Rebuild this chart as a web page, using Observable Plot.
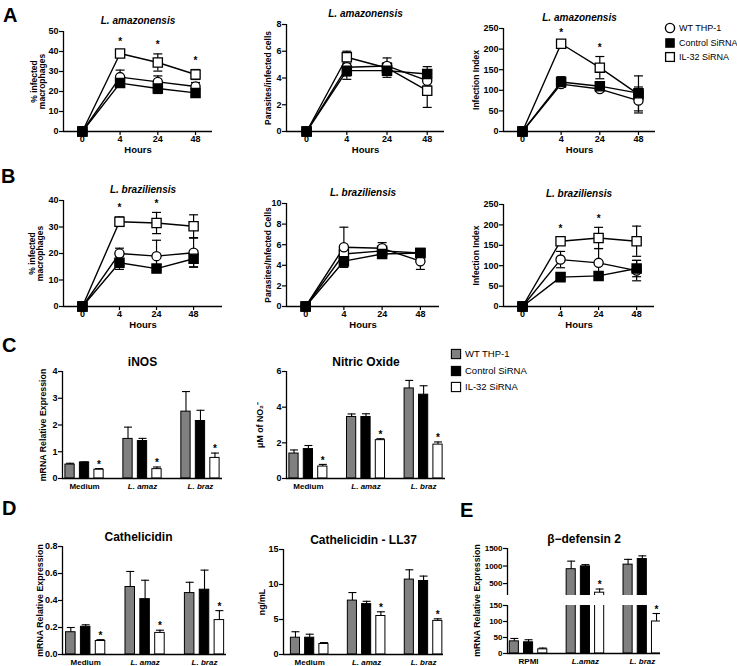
<!DOCTYPE html>
<html><head><meta charset="utf-8">
<script src="https://cdn.jsdelivr.net/npm/d3@7"></script>
<script src="https://cdn.jsdelivr.net/npm/@observablehq/plot@0.6"></script>
<style>
body{margin:0;background:#fff;}
#fig{position:relative;width:737px;height:666px;overflow:hidden;background:#fff;font-family:"Liberation Sans",Arial,Helvetica,sans-serif;color:#000;}
.letter{position:absolute;font-weight:bold;font-size:20px;line-height:1;}
.leg{position:absolute;line-height:1;display:flex;align-items:center;white-space:nowrap;}
.leg svg{margin-right:3px;}
</style></head><body><div id="fig"></div>
<script>
// ---------------- DATA ----------------
const hours = ["0", "4", "24", "48"];
const seriesNames = ["WT THP-1", "Control SiRNA", "IL-32 SiRNA"];
const stimuli = ["Medium", "L. amaz", "L. braz"];
const stimuliE = ["RPMI", "L.amaz", "L. braz"];
const barColors = ["#808080", "#000000", "#ffffff"];

// Panel A – L. amazonensis (rows: WT THP-1, Control SiRNA, IL-32 SiRNA; columns: hours)
const amazPct = [[0, 27.2, 24.8, 22.5], [0, 24.2, 21.5, 19.3], [0, 39, 34.5, 28.5]];
const amazPctErr = [[0, 3.5, 3, 2], [0, 1.8, 2.5, 2.2], [0, 1.5, 4.3, 2.5]];
const amazPctStars = [1, 2, 3];
const amazPar = [[0, 4.8, 4.9, 3.8], [0, 4.55, 4.55, 4.3], [0, 5.55, 4.75, 3.05]];
const amazParErr = [[0, 0.9, 0.6, 0.4], [0, 0.4, 0.5, 0.55], [0, 0.45, 0.4, 1.25]];
const amazParStars = [];
const amazIdx = [[0, 115, 103, 75], [0, 120, 110, 93], [0, 213, 155, 90]];
const amazIdxErr = [[0, 8, 6, 25], [0, 13, 8, 15], [0, 5, 27, 45]];
const amazIdxStars = [1, 2];

// Panel B – L. braziliensis
const brazPct = [[0, 20, 19, 20.3], [0, 16.5, 14.3, 18], [0, 32, 31.5, 30.3]];
const brazPctErr = [[0, 2, 6, 5.5], [0, 2.5, 1, 3], [0, 1.8, 4, 4.3]];
const brazPctStars = [1, 2];
const brazPar = [[0, 5.75, 5.65, 4.4], [0, 4.4, 5.1, 5.2], [0, 5.1, 5.4, 5.2]];
const brazParErr = [[0, 1.95, 0.55, 0.8], [0, 0.5, 0.3, 0.3], [0, 0.4, 0.35, 0.4]];
const brazParStars = [];
const brazIdx = [[0, 115, 107, 88], [0, 72, 75, 93], [0, 160, 168, 160]];
const brazIdxErr = [[0, 20, 35, 25], [0, 8, 8, 20], [0, 8, 26, 37]];
const brazIdxStars = [1, 2];

// Panel C (rows: series; columns: Medium, L. amaz, L. braz)
const inos = [[0.52, 1.48, 2.5], [0.6, 1.4, 2.15], [0.33, 0.35, 0.77]];
const inosErr = [[0.05, 0.44, 0.75], [0.02, 0.1, 0.4], [0.04, 0.08, 0.18]];
const inosStars = [0, 1, 2];
const nitric = [[1.4, 3.45, 5.05], [1.65, 3.45, 4.7], [0.67, 2.15, 1.9]];
const nitricErr = [[0.2, 0.17, 0.45], [0.2, 0.18, 0.5], [0.12, 0.08, 0.15]];
const nitricStars = [0, 1, 2];

// Panel D
const cathel = [[0.165, 0.5, 0.455], [0.205, 0.41, 0.48], [0.1, 0.16, 0.255]];
const cathelErr = [[0.035, 0.115, 0.08], [0.015, 0.14, 0.145], [0.01, 0.02, 0.07]];
const cathelStars = [0, 1, 2];
const ll37 = [[2.4, 7.7, 10.7], [2.4, 7.2, 10.5], [1.5, 5.5, 4.8]];
const ll37Err = [[0.85, 1.15, 1.4], [0.5, 0.4, 0.7], [0.2, 0.6, 0.3]];
const ll37Stars = [1, 2];

// Panel E
const defensin = [[38, 910, 1040], [35, 990, 1200], [13, 240, 100]];
const defensinErr = [[9, 230, 150], [8, 50, 90], [4, 105, 25]];
const defensinStars = [1, 2];

// ---------------- DRAWING ----------------
const fig = document.getElementById("fig");
const FONT = '"Liberation Sans", Arial, Helvetica, sans-serif';
const capSymbol = {draw(ctx, size) { const w = Math.sqrt(size / Math.PI); ctx.moveTo(-w, 0); ctx.lineTo(w, 0); }};
const plainFormat = d => String(d);

function toRows(means, errs) {
  const rows = [];
  means.forEach((arr, k) => arr.forEach((v, i) => rows.push({k, i, v, e: errs[k][i]})));
  return rows;
}
function place(node, left, top) {
  node.style.position = "absolute";
  node.style.left = left + "px";
  node.style.top = top + "px";
  fig.appendChild(node);
}
function baseStyle() {
  return {fontFamily: FONT, fontSize: "9px", fontWeight: "bold", overflow: "visible", background: "transparent", color: "black"};
}

function linePanel(o) {
  const [l, r, t, b] = o.frame;
  const mL = 60, mR = 15, mT = 30, mB = 30;
  const rows = toRows(o.means, o.errs);
  const errRows = rows.filter(d => d.e > 0);
  const starRows = o.stars.map(i => ({i, top: d3.max(rows.filter(d => d.i === i), d => d.v + d.e)}));
  const order = [2, 0, 1];
  const plot = Plot.plot({
    width: r - l + mL + mR, height: b - t + mT + mB,
    marginLeft: mL, marginRight: mR, marginTop: mT, marginBottom: mB,
    style: baseStyle(),
    x: {domain: o.xDomain},
    y: {domain: o.yDomain},
    marks: [
      Plot.axisY({ticks: o.yTicks, tickSize: 4, tickPadding: 1, strokeWidth: 1.2, tickFormat: plainFormat, label: null}),
      Plot.axisX({ticks: [0, 1, 2, 3], tickFormat: i => hours[i], tickSize: 4, tickPadding: 0, strokeWidth: 1.2, label: null}),
      Plot.ruleX([o.xDomain[0]], {strokeWidth: 1.3}),
      Plot.ruleY([o.yDomain[0]], {strokeWidth: 1.3}),
      Plot.line(rows, {x: "i", y: "v", z: "k", stroke: "black", strokeWidth: 1.4}),
      Plot.ruleX(errRows, {x: "i", y1: d => d.v - d.e, y2: d => d.v + d.e, stroke: "black", strokeWidth: 1.2}),
      Plot.dot(errRows, {x: "i", y: d => d.v + d.e, symbol: capSymbol, r: 4.5, stroke: "black", fill: "none", strokeWidth: 1.2}),
      Plot.dot(errRows, {x: "i", y: d => d.v - d.e, symbol: capSymbol, r: 4.5, stroke: "black", fill: "none", strokeWidth: 1.2}),
      ...order.map(k => Plot.dot(rows.filter(d => d.k === k), {
        x: "i", y: "v",
        symbol: k === 0 ? "circle" : "square",
        r: k === 0 ? 4.6 : 5.2,
        fill: k === 1 ? "black" : "white", stroke: "black", strokeWidth: 1.3
      })),
      Plot.text(starRows, {x: "i", y: "top", text: d => "*", dy: -9, fontSize: 10}),
      Plot.text([o.title], {frameAnchor: "top", textAnchor: "middle", dy: -15, fontSize: 10, fontStyle: "italic"}),
      Plot.text(["Hours"], {frameAnchor: "bottom", textAnchor: "middle", dy: 21, fontSize: 9.5}),
      Plot.text([o.yLabel], {frameAnchor: "left", textAnchor: "middle", lineAnchor: "middle", rotate: -90, dx: o.yLabelDx, fontSize: 8.5})
    ]
  });
  place(plot, l - mL, t - mT);
}

function barPanel(o) {
  const [l, r, t, b] = o.frame;
  const mL = 60, mR = 15, mT = o.mT ?? 30, mB = 25;
  const rows = toRows(o.means, o.errs).map(d => ({...d, x: d.i + (d.k - 1) * 0.25}));
  const hw = 0.08;
  const clip = true;
  const starFilter = o.starFilter ?? (() => true);
  const starRows = rows.filter(d => d.k === 2 && o.stars.includes(d.i)).filter(starFilter);
  const cats = o.cats;
  const marks = [
    Plot.axisY({ticks: o.yTicks, tickSize: 4, tickPadding: 1, strokeWidth: 1.2, fontSize: o.tickFontSize ?? 9,
      tickFormat: o.tickFormat ?? plainFormat, label: null}),
    Plot.ruleX([o.xDomain[0]], {strokeWidth: 1.3}),
    ...[0, 1, 2].map(k => Plot.rect(rows.filter(d => d.k === k), {
      x1: d => d.x - hw, x2: d => d.x + hw, y1: d => 0, y2: "v",
      fill: barColors[k], stroke: "black", strokeWidth: 1, clip
    })),
    Plot.ruleX(rows, {x: "x", y1: "v", y2: d => d.v + d.e, stroke: "black", strokeWidth: 1.1, clip}),
    Plot.dot(rows, {x: "x", y: d => d.v + d.e, symbol: capSymbol, r: 4, stroke: "black", fill: "none", strokeWidth: 1.1, clip}),
    Plot.text(starRows, {x: "x", y: d => d.v + d.e, text: d => "*", dy: -4, fontSize: 10})
  ];
  if (o.baseline !== false) marks.push(Plot.ruleY([o.yDomain[0]], {strokeWidth: 1.3}));
  if (o.title) marks.push(Plot.text([o.title], {frameAnchor: "top", textAnchor: "middle", dy: -14, dx: o.titleDx ?? 0, fontSize: 12}));
  if (cats) {
    marks.push(Plot.text(cats, {filter: d => !d.startsWith("L."), x: (d, i) => i, y: d => o.yDomain[0], dy: 8, fontSize: 8}));
    marks.push(Plot.text(cats, {filter: d => d.startsWith("L."), x: (d, i) => i, y: d => o.yDomain[0], dy: 8, fontSize: 8, fontStyle: "italic"}));
  }
  if (o.yLabel) marks.push(Plot.text([o.yLabel], {frameAnchor: "left", textAnchor: "middle", lineAnchor: "middle", rotate: -90,
    dx: o.yLabelDx, dy: o.yLabelDy ?? 0, fontSize: 8.8}));
  const plot = Plot.plot({
    width: r - l + mL + mR, height: b - t + mT + mB,
    marginLeft: mL, marginRight: mR, marginTop: mT, marginBottom: mB,
    style: baseStyle(),
    x: {domain: o.xDomain, axis: null},
    y: {domain: o.yDomain},
    marks
  });
  place(plot, l - mL, t - mT);
}

// Panel A
linePanel({means: amazPct, errs: amazPctErr, stars: amazPctStars, yDomain: [0, 50], yTicks: [0, 10, 20, 30, 40, 50],
  frame: [63, 212, 31, 131], xDomain: [-0.5, 3.45], title: "L. amazonensis", yLabel: "% infected\nmacrophages", yLabelDx: -25});
linePanel({means: amazPar, errs: amazParErr, stars: amazParStars, yDomain: [0, 8], yTicks: [0, 2, 4, 6, 8],
  frame: [286, 444, 24, 131], xDomain: [-0.5, 3.43], title: "L. amazonensis", yLabel: "Parasites/infected cells", yLabelDx: -18});
linePanel({means: amazIdx, errs: amazIdxErr, stars: amazIdxStars, yDomain: [0, 250], yTicks: [0, 50, 100, 150, 200, 250],
  frame: [503, 655, 28, 131], xDomain: [-0.49, 3.44], title: "L. amazonensis", yLabel: "Infection Index", yLabelDx: -27});
// Panel B
linePanel({means: brazPct, errs: brazPctErr, stars: brazPctStars, yDomain: [0, 40], yTicks: [0, 10, 20, 30, 40],
  frame: [63, 222, 200, 306], xDomain: [-0.51, 3.78], title: "L. braziliensis", yLabel: "% infected\nmacrophages", yLabelDx: -27});
linePanel({means: brazPar, errs: brazParErr, stars: brazParStars, yDomain: [0, 10], yTicks: [0, 2, 4, 6, 8, 10],
  frame: [286, 439, 203, 306], xDomain: [-0.5, 3.5], title: "L. braziliensis", yLabel: "Parasites/Infected Cells", yLabelDx: -18});
linePanel({means: brazIdx, errs: brazIdxErr, stars: brazIdxStars, yDomain: [0, 250], yTicks: [0, 50, 100, 150, 200, 250],
  frame: [503, 654, 204, 306], xDomain: [-0.5, 3.47], title: "L. braziliensis", yLabel: "Infection Index", yLabelDx: -27});
// Panel C
barPanel({means: inos, errs: inosErr, stars: inosStars, cats: stimuli, yDomain: [0, 4], yTicks: [0, 1, 2, 3, 4],
  frame: [62, 222, 371, 478], xDomain: [-0.38, 2.38], title: "iNOS", yLabel: "mRNA Relative Expression", yLabelDx: -19});
barPanel({means: nitric, errs: nitricErr, stars: nitricStars, cats: stimuli, yDomain: [0, 6], yTicks: [0, 2, 4, 6],
  frame: [286, 445, 371, 478], xDomain: [-0.38, 2.38], title: "Nitric Oxide", yLabel: "μM of NO₂⁻", yLabelDx: -26});
// Panel D
barPanel({means: cathel, errs: cathelErr, stars: cathelStars, cats: stimuli, yDomain: [0, 0.8], yTicks: [0, 0.2, 0.4, 0.6, 0.8],
  tickFormat: d3.format(".1f"), frame: [62, 226, 546, 654], xDomain: [-0.39, 2.37], title: "Cathelicidin", titleDx: -6,
  yLabel: "mRNA Relative Expression", yLabelDx: -22});
barPanel({means: ll37, errs: ll37Err, stars: ll37Stars, cats: stimuli, yDomain: [0, 15], yTicks: [0, 5, 10, 15],
  frame: [283, 443, 549, 654], xDomain: [-0.46, 2.35], title: "Cathelicidin - LL37", yLabel: "ng/mL", yLabelDx: -21});
// Panel E (broken axis)
barPanel({means: defensin, errs: defensinErr, stars: defensinStars, starFilter: d => d.v + d.e > 150,
  yDomain: [160, 1500], yTicks: [500, 1000, 1500], baseline: false, tickFontSize: 8,
  frame: [507, 660, 548, 595], xDomain: [-0.37, 2.32], title: "β−defensin 2"});
barPanel({means: defensin, errs: defensinErr, stars: defensinStars, starFilter: d => d.v + d.e <= 150, cats: stimuliE,
  yDomain: [0, 150], yTicks: [0, 50, 100, 150], mT: 60, tickFontSize: 8,
  frame: [507, 660, 605, 653], xDomain: [-0.37, 2.32], yLabel: "mRNA Relative Expression", yLabelDx: -30, yLabelDy: -29});

// Panel letters
[["A", 3, 5], ["B", 1, 166], ["C", 2, 335], ["D", 2, 498], ["E", 460, 500]].forEach(([s, x, y]) => {
  const d = document.createElement("div");
  d.className = "letter"; d.textContent = s; d.style.left = x + "px"; d.style.top = y + "px";
  fig.appendChild(d);
});

// Legends
function legendRow(cx, cy, shape, label, fontSize) {
  const d = document.createElement("div");
  d.className = "leg";
  d.style.left = (cx - 6) + "px";
  d.style.top = (cy - 6) + "px";
  d.style.fontSize = fontSize + "px";
  d.innerHTML = `<svg width="12" height="12" viewBox="-6 -6 12 12">${shape}</svg><span>${label}</span>`;
  fig.appendChild(d);
}
const shapesA = [
  '<circle r="4.6" fill="white" stroke="black" stroke-width="1.4"/>',
  '<rect x="-4.8" y="-4.8" width="9.6" height="9.6" fill="black"/>',
  '<rect x="-4.4" y="-4.4" width="8.8" height="8.8" fill="white" stroke="black" stroke-width="1.3"/>'
];
seriesNames.forEach((s, k) => legendRow(670, [28, 43, 57][k], shapesA[k], s, 9));
seriesNames.forEach((s, k) => legendRow(456, [354, 371, 387][k],
  `<rect x="-4.6" y="-4.6" width="9.2" height="9.2" fill="${barColors[k]}" stroke="black" stroke-width="1.1"/>`, s, 9.5));
</script>
</body></html>
